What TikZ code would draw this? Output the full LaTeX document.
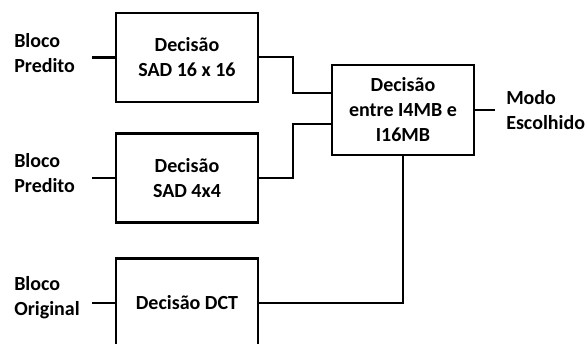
\documentclass[tikz,border=0pt]{standalone}
\usepackage{fontspec}
\setmainfont{Carlito}
\usetikzlibrary{calc,positioning}
\tikzstyle{block}=[draw,fill=white,rectangle,line width=2.5pt,minimum width=142pt,minimum height=89pt,inner sep=0pt,align=center,font=\bigbold]
\tikzstyle{tag}=[align=left,inner sep=0pt,font=\bigbold]
\tikzstyle{wire}=[line width=2pt]
\newcommand{\bigbold}{\fontsize{20}{25}\selectfont\bfseries}

\begin{document}
\begin{tikzpicture}[x=1pt,y=-1pt,line width=2.5pt]
\clip (0,0) rectangle (587,344);
\draw (187, 57.5) node [block] (b1) {Decisão\\SAD 16 x 16};
\draw (187, 178) node [block] (b2) {Decisão\\SAD 4x4};
\draw (187, 303) node [block] (b3) {Decisão DCT};
\draw (403, 110) node [block,minimum height=90pt] (bm) {Decisão\\entre I4MB e\\I16MB};
\draw (13, 53) node [tag,anchor=west] (in1) {Bloco\\Predito};
\draw (13, 173) node [tag,anchor=west] (in2) {Bloco\\Predito};
\draw (13, 298) node [tag,anchor=west] (in3) {Bloco\\Original};
\draw (495, 110) node [tag,anchor=west,inner xsep=10pt] (out) {Modo\\Escolhido};
\draw (b1.west) -- +(-23,0);
\draw (b2.west) -- +(-23,0);
\draw (b3.west) -- +(-23,0);
\draw (bm.east) -- (out.west);
\draw[wire] (b1.east) -| ($(bm.west)+(-38,-17)$) -- ($(bm.west)+(0,-17)$);
\draw[wire] (b2.east) -| ($(bm.west)+(-38,14)$) -- ($(bm.west)+(0,14)$);
\draw[wire] (b3.east) -| (bm.south);
\end{tikzpicture}
\end{document}
